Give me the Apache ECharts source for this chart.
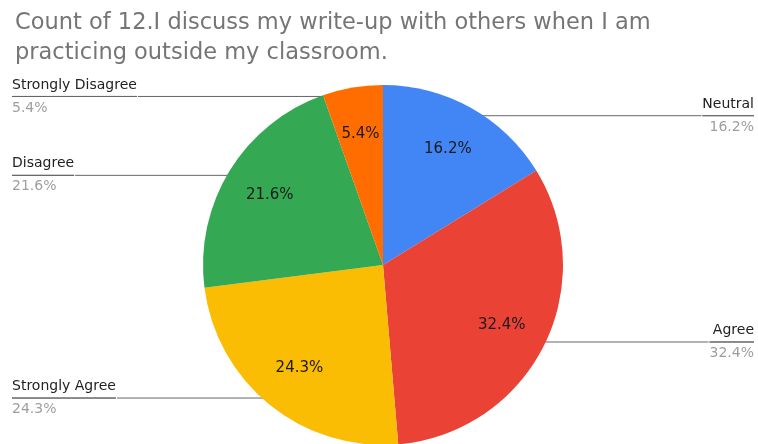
<!DOCTYPE html>
<html>
<head>
<meta charset="utf-8">
<script src="https://cdn.jsdelivr.net/npm/echarts@6/dist/echarts.min.js"></script>
<style>
  html, body { margin: 0; padding: 0; background: #fff; }
  #chart { width: 758px; height: 444px; }
</style>
</head>
<body>
<div id="chart"></div>
<script>
// Survey responses for statement 12 (share of respondents, %)
const categories = ['Neutral', 'Agree', 'Strongly Agree', 'Disagree', 'Strongly Disagree'];
const shares = [16.2, 32.4, 24.3, 21.6, 5.4];
const colors = ['#4285F4', '#EA4335', '#FBBC04', '#34A853', '#FF6D01'];
const titleText = 'Count of 12.I discuss my write-up with others when I am\npracticing outside my classroom.';

const FONT = 'DejaVu Sans, Verdana, sans-serif';
const center = [383, 265];
const R = 180;

const sliceData = categories.map((name, i) => ({
  name, value: shares[i], itemStyle: { color: colors[i] }
}));

// Transparent overlay data, used only for labels
const ghost = (extra) => categories.map((name, i) => Object.assign({
  name, value: shares[i], itemStyle: { color: 'rgba(0,0,0,0)' }
}, extra ? extra(i) : {}));

const chart = echarts.init(document.getElementById('chart'), null, { renderer: 'canvas' });
chart.setOption({
  animation: false,
  backgroundColor: '#ffffff',
  title: {
    text: titleText,
    left: 10, top: 3,
    textStyle: {
      fontFamily: FONT,
      fontSize: 22.5, fontWeight: 'normal', color: '#757575', lineHeight: 30
    }
  },
  series: [
    {
      type: 'pie',
      center, radius: R,
      startAngle: 90, clockwise: true,
      silent: true,
      label: { show: false },
      labelLine: { show: false },
      itemStyle: { borderWidth: 0 },
      data: sliceData
    },
    {
      // values inside the slices
      type: 'pie',
      center, radius: [80, R],
      startAngle: 90, clockwise: true,
      silent: true,
      label: {
        show: true, position: 'inside',
        formatter: (p) => p.value.toFixed(1) + '%',
        fontFamily: FONT,
        fontSize: 15, color: '#1a1a1a'
      },
      labelLine: { show: false },
      data: ghost()
    },
    {
      // callout labels at the chart edges
      type: 'pie',
      center, radius: R - 9,
      startAngle: 90, clockwise: true,
      silent: true,
      label: {
        show: true, position: 'outside',
        alignTo: 'edge',
        edgeDistance: 12,
        distanceToLabelLine: 0,
        formatter: (p) => '{name|' + p.name + '}\n{hr|}\n{pct|' + p.value.toFixed(1) + '%}',
        rich: {
          name: { fontFamily: FONT, fontSize: 14, color: '#222222', lineHeight: 23 },
          hr: { borderColor: '#666666', width: '100%', borderWidth: 1, height: 0 },
          pct: { fontFamily: FONT, fontSize: 14, color: '#9e9e9e', lineHeight: 23 }
        }
      },
      labelLine: {
        show: true, length: 0, length2: 10,
        lineStyle: { color: '#666666', width: 1 }
      },
      data: ghost(i => (i < 2 ? { label: { edgeDistance: 4, align: 'right' } } : { label: { edgeDistance: 12 } }))
    }
  ]
});
</script>
</body>
</html>
